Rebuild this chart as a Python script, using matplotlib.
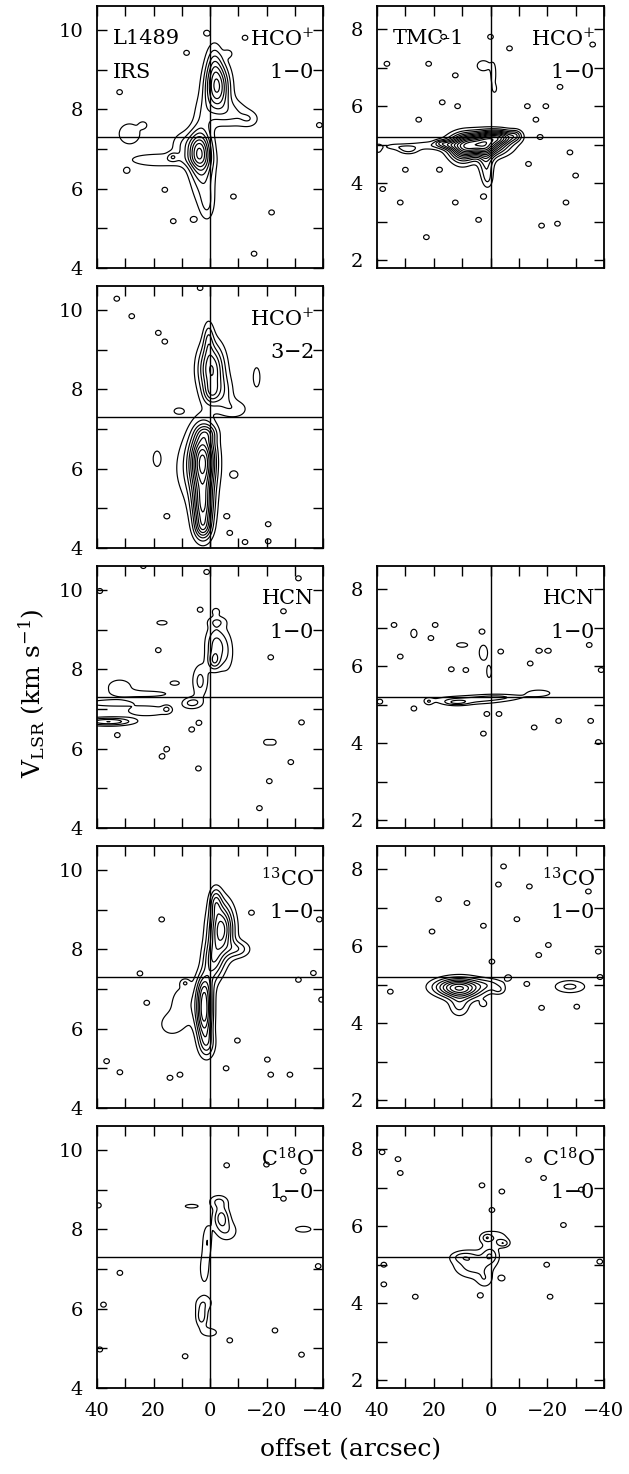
import numpy as np
import matplotlib
matplotlib.use("Agg")
from matplotlib import pyplot as plt

plt.rcParams['font.family'] = ['DejaVu Serif']
plt.rcParams['mathtext.fontset'] = 'dejavuserif'

# emission components: (offset, v_lsr, sigma_offset, sigma_v, peak in contour units)
# plus isolated noise spots (offset, v_lsr)

l1489_hco10 = [(-2.5, 8.55, 3.0, 0.42, 7.0), (-1.5, 9.2, 2.0, 0.35, 2.0), (-8, 7.9, 4, 0.25, 2.0),
               (-14, 7.75, 2.5, 0.15, 1.5), (2.5, 7.85, 2.5, 0.35, 1.6), (3.8, 6.95, 2.8, 0.35, 7.0),
               (2.5, 6.3, 3.0, 0.5, 2.5), (1.0, 5.6, 1.8, 0.3, 1.6), (18, 6.72, 9, 0.14, 1.7),
               (10, 7.1, 3, 0.25, 1.6), (28.5, 7.38, 3.2, 0.22, 1.9)]
l1489_hco10_spots = [(8.3, 9.42), (-12.4, 9.8), (-6.5, 9.4), (32, 8.43), (-38.7, 7.6), (29.5, 6.45),
                     (-8.3, 5.8), (-21.8, 5.4), (-15.6, 4.36), (23.6, 7.6), (13.2, 6.8), (1.2, 9.92),
                     (16, 5.97), (13, 5.18), (5.9, 5.22)]

tmc1_hco10 = [(4, 5.0, 6, 0.2, 11), (-3, 5.2, 4, 0.12, 6), (10, 4.85, 3, 0.25, 4),
              (1.5, 4.55, 1.8, 0.3, 3), (1.0, 4.1, 1.3, 0.18, 1.4), (-9, 5.25, 1.5, 0.1, 2),
              (15, 5.0, 2.5, 0.08, 2.5), (22, 4.98, 5, 0.08, 1.6), (29, 4.87, 2.5, 0.08, 2.3),
              (34, 4.95, 3, 0.06, 1.4), (39.5, 4.9, 1, 0.1, 1.6), (2.5, 7.05, 2.0, 0.12, 1.8),
              (-1.0, 6.8, 0.8, 0.25, 1.7), (-1.5, 6.45, 0.6, 0.08, 1.3), (17.7, 5.05, 1.5, 0.05, 1.5)]
tmc1_hco10_spots = [(16.5, 7.8), (0, 7.8), (36.5, 7.1), (21.8, 7.1), (12.4, 6.8), (17, 6.1),
                    (25.3, 5.65), (11.6, 6.0), (-6.7, 7.5), (-36, 7.6), (-17.5, 5.2), (-28, 4.8),
                    (-13.4, 4.5), (-30, 4.2), (30, 4.35), (18, 4.35), (31.8, 3.5), (12.4, 3.5),
                    (2.5, 3.65), (4.2, 3.05), (-18, 2.9), (-23.6, 2.95), (22.6, 2.6), (-26.6, 3.5),
                    (38, 3.85), (-24.5, 6.5), (-13, 6.0), (-16, 5.65), (-19.5, 6.0)]

l1489_hco32 = [(-0.5, 8.5, 3.2, 0.45, 6), (-0.5, 7.9, 2.0, 0.2, 2.5), (0.5, 9.3, 1.3, 0.3, 2.2),
               (-9, 7.5, 3.5, 0.18, 1.6), (-5, 7.9, 2.5, 0.3, 1.8), (-16.5, 8.3, 1.2, 0.25, 1.6),
               (11, 7.45, 1.8, 0.08, 1.5), (2.5, 6.2, 3.0, 0.55, 9), (2.5, 5.0, 2.5, 0.45, 7),
               (2.5, 4.5, 2.0, 0.2, 2.5), (6, 6.0, 5, 0.6, 1.8), (1, 6.9, 2.5, 0.15, 2),
               (18.8, 6.25, 1.4, 0.2, 1.5), (-8.5, 5.85, 1.5, 0.1, 1.5)]
l1489_hco32_spots = [(33, 10.28), (27.7, 9.84), (18.3, 9.42), (16, 9.2), (3.5, 10.55), (15.3, 4.8),
                     (-6, 4.8), (-7, 4.38), (-20.6, 4.6), (-20.6, 4.17), (-12.4, 4.15)]

l1489_hcn = [(36, 6.68, 6, 0.07, 4), (22, 6.95, 7, 0.12, 1.6), (36, 7.15, 6, 0.06, 1.8),
             (32, 7.55, 4, 0.18, 1.6), (22, 7.38, 7, 0.07, 1.5), (-2, 8.6, 2.5, 0.35, 3.3),
             (-1.5, 8.2, 1.5, 0.15, 2.5), (-6, 8.4, 2, 0.4, 1.4), (3.5, 7.7, 2.0, 0.3, 2.3),
             (6.5, 7.15, 2.5, 0.1, 2.3), (-2.5, 9.2, 2.5, 0.1, 1.5), (12.5, 7.65, 1.8, 0.06, 1.5),
             (17, 9.17, 2, 0.06, 1.5)]
l1489_hcn_spots = [(39, 9.97), (3.5, 9.5), (-2.1, 9.46), (1.2, 10.45), (23.6, 10.6), (-31.3, 10.29),
                   (-26, 9.46), (18.3, 8.48), (-21.5, 8.3), (15.3, 5.99), (17, 5.8), (4.1, 5.5),
                   (6.5, 6.48), (3.9, 6.65), (32.8, 6.34), (15.3, 7.0), (-32.4, 6.66), (-20, 6.16),
                   (-22.4, 6.16), (-28.6, 5.66), (-21, 5.18), (-17.5, 4.5)]

tmc1_hcn = [(8, 5.12, 9, 0.08, 2.3), (-3, 5.2, 6, 0.06, 1.7), (12, 5.05, 3, 0.05, 2.0),
            (-17, 5.3, 4, 0.08, 1.6), (10, 6.55, 2, 0.06, 1.6), (2.5, 6.35, 1.5, 0.2, 1.6),
            (0.5, 5.85, 0.8, 0.15, 1.6), (27, 6.85, 1.2, 0.12, 1.5)]
tmc1_hcn_spots = [(31.8, 6.25), (13.8, 5.92), (8.7, 5.9), (3, 6.9), (21, 6.73), (19.5, 7.07),
                  (34, 7.07), (-3.6, 6.38), (-14, 6.07), (-20.4, 6.4), (-17, 6.4), (-34.8, 6.55),
                  (-39, 5.9), (21.8, 5.08), (27, 4.9), (39, 5.08), (1.3, 4.76), (-3, 4.76),
                  (2.5, 4.25), (-15.4, 4.41), (-24, 4.58), (-35.3, 4.58), (-38, 4.03)]

l1489_13co = [(-4, 8.5, 3, 0.45, 7.5), (-2, 9.2, 1.5, 0.25, 3), (-10, 8.0, 3, 0.15, 2.5),
              (-1, 7.7, 2.5, 0.35, 4), (2, 6.35, 2.0, 0.45, 7), (2, 7.0, 2, 0.3, 3.5),
              (1, 5.6, 2, 0.25, 2.5), (9, 6.6, 4, 0.4, 1.8), (14, 6.1, 3, 0.2, 1.5)]
l1489_13co_spots = [(22.4, 6.65), (8.8, 7.15), (36.6, 5.18), (31.9, 4.9), (14.2, 4.76), (10.6, 4.84),
                    (17.1, 8.75), (24.8, 7.39), (-14.7, 8.92), (-38.7, 8.75), (-36.6, 7.4),
                    (-31.3, 7.23), (-39.5, 6.73), (-9.7, 5.7), (-20.3, 5.22), (-28.3, 4.84),
                    (-21.5, 4.84), (-5.7, 5.0)]

tmc1_13co = [(10, 4.9, 5, 0.18, 6.5), (15, 4.95, 5, 0.15, 2.5), (11, 4.45, 2.5, 0.2, 2.2),
             (0, 5.0, 4, 0.12, 1.8), (-3, 4.85, 1.5, 0.08, 1.4), (-28, 4.95, 4, 0.12, 2.3)]
tmc1_13co_spots = [(-18, 4.4), (-30.4, 4.43), (-38.6, 5.2), (-17, 5.77), (-20.4, 6.03), (-0.5, 5.6),
                   (8.3, 7.12), (18.3, 7.22), (20.6, 6.38), (2.5, 6.53), (-2.8, 7.6), (-13.7, 7.55),
                   (-9.3, 6.7), (-4.6, 8.07), (-34.5, 7.42), (35.3, 4.82), (2.5, 4.5), (-6.3, 5.19),
                   (-12.8, 5.02), (-38, 5.86)]

l1489_c18o = [(-4, 8.3, 2, 0.2, 3.3), (-3, 8.7, 2.5, 0.12, 2.0), (-6, 7.95, 3, 0.2, 1.7),
              (1, 7.7, 1.2, 0.3, 1.8), (2, 7.0, 1.5, 0.35, 1.5), (3, 5.8, 1.5, 0.2, 2.5),
              (2, 6.15, 2.5, 0.15, 1.5), (0, 5.4, 2.5, 0.1, 1.5), (6.5, 8.58, 2.5, 0.05, 1.5),
              (-33, 8.0, 3, 0.08, 1.5)]
l1489_c18o_spots = [(-23, 5.45), (37.7, 6.1), (31.9, 6.9), (39, 4.97), (8.8, 4.8), (-7, 5.2),
                    (-32.4, 4.84), (-38.3, 7.07), (-5.9, 9.61), (-20, 9.63), (-33, 9.46), (-26, 8.77),
                    (39.5, 8.6)]

tmc1_c18o = [(6, 5.0, 5, 0.25, 2.6), (0, 5.25, 2, 0.15, 2.3), (-1, 5.7, 4, 0.15, 1.8),
             (-4.5, 5.55, 1.5, 0.07, 2.2), (10, 5.2, 3, 0.1, 1.5), (2, 4.6, 2, 0.15, 1.4)]
tmc1_c18o_spots = [(38.2, 7.92), (32.6, 7.74), (31.8, 7.38), (3, 7.06), (-4, 6.9), (-0.5, 6.42),
                   (-13.4, 7.72), (-18.7, 7.25), (-32, 6.95), (-25.7, 6.03), (-19.8, 5.0), (37.6, 5.0),
                   (37.6, 4.49), (26.5, 4.17), (3.6, 4.2), (-21, 4.17), (-4, 4.65), (-38.5, 5.08),
                   (1.3, 5.7)]

# panel: (row, col, components, spots, v range, v of crosshair, line 1, line 2, source label)
panels = [
    (0, 0, l1489_hco10, l1489_hco10_spots, (4, 10.6), 7.3, r'HCO$^{+}$', r'1$-$0', ('L1489', 'IRS')),
    (0, 1, tmc1_hco10, tmc1_hco10_spots, (1.8, 8.6), 5.2, r'HCO$^{+}$', r'1$-$0', ('TMC-1', '')),
    (1, 0, l1489_hco32, l1489_hco32_spots, (4, 10.6), 7.3, r'HCO$^{+}$', r'3$-$2', None),
    (2, 0, l1489_hcn, l1489_hcn_spots, (4, 10.6), 7.3, 'HCN', r'1$-$0', None),
    (2, 1, tmc1_hcn, tmc1_hcn_spots, (1.8, 8.6), 5.2, 'HCN', r'1$-$0', None),
    (3, 0, l1489_13co, l1489_13co_spots, (4, 10.6), 7.3, r'$^{13}$CO', r'1$-$0', None),
    (3, 1, tmc1_13co, tmc1_13co_spots, (1.8, 8.6), 5.2, r'$^{13}$CO', r'1$-$0', None),
    (4, 0, l1489_c18o, l1489_c18o_spots, (4, 10.6), 7.3, r'C$^{18}$O', r'1$-$0', None),
    (4, 1, tmc1_c18o, tmc1_c18o_spots, (1.8, 8.6), 5.2, r'C$^{18}$O', r'1$-$0', None),
]

levels = np.arange(1, 20)
xg = np.arange(-41, 41.01, 0.4)

fig = plt.figure(figsize=(6.29, 14.74), dpi=100)
W, H = 629, 1474
col_x = [97, 377]
col_w = [226, 227]
row_top = [6, 286, 566, 846, 1126]
ph = 262

for row, col, comps, spots, vr, vline, lab1, lab2, src in panels:
    ax = fig.add_axes([col_x[col] / W, 1 - (row_top[row] + ph) / H, col_w[col] / W, ph / H])
    vg = np.arange(vr[0] - 0.2, vr[1] + 0.2, 0.02)
    X, V = np.meshgrid(xg, vg)
    Z = np.zeros_like(X)
    for x0, v0, sx, sv, a in comps:
        Z += a * np.exp(-0.5 * (((X - x0) / sx) ** 2 + ((V - v0) / sv) ** 2))
    for x0, v0 in spots:
        Z += 1.5 * np.exp(-0.5 * (((X - x0) / 1.1) ** 2 + ((V - v0) / 0.07) ** 2))
    ax.contour(X, V, Z, levels=levels, colors='k', linewidths=0.85)
    ax.axvline(0, color='k', lw=1.0)
    ax.axhline(vline, color='k', lw=1.0)
    ax.set_xlim(40, -40)
    ax.set_ylim(*vr)

    xt = np.arange(-40, 41, 10)
    ax.set_xticks(xt)
    if row == 4:
        ax.set_xticklabels([('%d' % t).replace('-', '\u2212') if t % 20 == 0 else '' for t in xt])
    else:
        ax.set_xticklabels([])
    yt = np.arange(np.ceil(vr[0]), vr[1], 1)
    ax.set_yticks(yt)
    ax.set_yticklabels(['%d' % t if t % 2 == 0 else '' for t in yt])
    ax.tick_params(direction='in', top=True, right=True, length=7, width=1,
                   labelsize=14, pad=10)
    for s in ax.spines.values():
        s.set_linewidth(1.3)

    ax.text(0.96, 0.875, lab1, transform=ax.transAxes, ha='right', va='center', fontsize=15)
    ax.text(0.96, 0.745, lab2, transform=ax.transAxes, ha='right', va='center', fontsize=15)
    if src:
        ax.text(0.07, 0.875, src[0], transform=ax.transAxes, ha='left', va='center', fontsize=15)
        ax.text(0.07, 0.745, src[1], transform=ax.transAxes, ha='left', va='center', fontsize=15)

fig.text(0.05, 0.53, r'V$_{\rm LSR}$ (km s$^{-1}$)', rotation=90, ha='center', va='center', fontsize=18)
fig.text(0.558, 0.0165, 'offset (arcsec)', ha='center', va='center', fontsize=18)

fig.savefig('out.png', dpi=100)
